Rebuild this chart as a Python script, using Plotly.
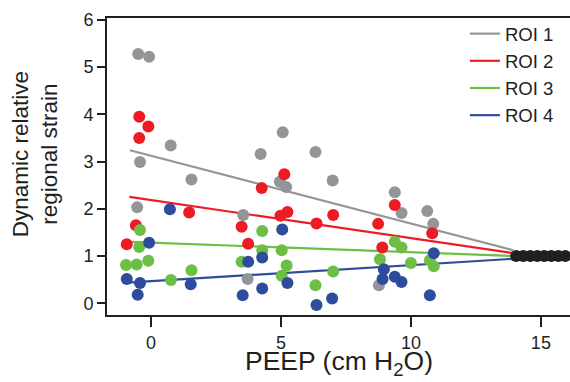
import plotly.graph_objects as go

# ---- data ----
roi1_x = [-0.49, -0.07, 0.76, -0.42, -0.53, 1.56, 3.55, 3.72, 4.22, 5.07, 4.96, 5.20, 6.33, 6.99, 9.38, 9.64, 10.63, 10.86, 8.77]
roi1_y = [5.28, 5.22, 3.34, 2.99, 2.03, 2.62, 1.87, 0.51, 3.16, 3.62, 2.57, 2.46, 3.20, 2.60, 2.35, 1.91, 1.95, 1.68, 0.38]

roi2_x = [-0.45, -0.10, -0.45, -0.58, -0.93, 1.47, 3.49, 3.74, 4.26, 5.13, 4.98, 5.25, 6.37, 7.01, 8.74, 9.38, 8.90, 10.82]
roi2_y = [3.95, 3.74, 3.50, 1.65, 1.25, 1.92, 1.62, 1.26, 2.44, 2.73, 1.85, 1.93, 1.69, 1.87, 1.68, 2.08, 1.18, 1.48]

roi3_x = [-0.42, -0.45, -0.96, -0.55, -0.10, 0.77, 1.56, 3.49, 4.28, 4.28, 5.03, 5.22, 5.03, 6.33, 7.01, 9.38, 9.64, 8.81, 10.00, 10.73, 10.88]
roi3_y = [1.55, 1.19, 0.81, 0.82, 0.90, 0.49, 0.70, 0.88, 1.53, 1.12, 1.12, 0.80, 0.58, 0.38, 0.67, 1.30, 1.18, 0.93, 0.85, 0.91, 0.78]

roi4_x = [0.73, -0.07, -0.93, -0.42, -0.51, 1.53, 3.53, 3.74, 4.28, 4.28, 5.05, 5.25, 6.37, 6.97, 8.96, 8.91, 9.38, 9.64, 10.73, 10.88]
roi4_y = [1.99, 1.28, 0.51, 0.43, 0.18, 0.40, 0.17, 0.88, 0.97, 0.31, 1.56, 0.43, -0.04, 0.10, 0.72, 0.51, 0.56, 0.45, 0.17, 1.06]

ref_x = [14.05, 14.32, 14.59, 14.86, 15.13, 15.40, 15.67, 15.94]
ref_y = [1, 1, 1, 1, 1, 1, 1, 1]

# regression line end points
fit1_x = [-0.81, 13.94]; fit1_y = [3.24, 1.12]
fit2_x = [-0.83, 13.94]; fit2_y = [2.25, 1.06]
fit3_x = [-0.83, 13.94]; fit3_y = [1.30, 1.00]
fit4_x = [-1.07, 13.94]; fit4_y = [0.43, 0.94]

names = ["ROI 1", "ROI 2", "ROI 3", "ROI 4"]
colors = ["#939598", "#ED1C24", "#6DBE45", "#2E4C9C"]

x_title = "PEEP (cm H<sub>2</sub>O)"
y_title = "Dynamic relative<br>regional strain"

xs = [roi1_x, roi2_x, roi3_x, roi4_x]
ys = [roi1_y, roi2_y, roi3_y, roi4_y]
fxs = [fit1_x, fit2_x, fit3_x, fit4_x]
fys = [fit1_y, fit2_y, fit3_y, fit4_y]

FONT = "Liberation Sans, Arial, Helvetica, sans-serif"

fig = go.Figure()
for n, c, fx, fy in zip(names, colors, fxs, fys):
    fig.add_trace(go.Scatter(x=fx, y=fy, mode="lines", name=n,
                             line=dict(color=c, width=2.2), showlegend=True))
for n, c, x, y in zip(names, colors, xs, ys):
    fig.add_trace(go.Scatter(x=x, y=y, mode="markers", name=n, showlegend=False,
                             marker=dict(color=c, size=12, line=dict(width=0))))
fig.add_trace(go.Scatter(x=ref_x, y=ref_y, mode="markers", showlegend=False,
                         marker=dict(color="#231F20", size=12, line=dict(width=0))))

fig.update_layout(
    width=570, height=382,
    margin=dict(l=107, r=0, t=18, b=67, autoexpand=False),
    paper_bgcolor="white", plot_bgcolor="white",
    font=dict(family=FONT, color="#231F20", size=18),
    legend=dict(x=0.773, y=1.01, xanchor="left", yanchor="top",
                font=dict(size=18.6, family=FONT), bgcolor="rgba(0,0,0,0)",
                tracegroupgap=0),
    xaxis=dict(range=[-1.69, 16.12], tickvals=[0, 5, 10, 15],
               ticks="outside", ticklen=10, tickwidth=2, tickcolor="#231F20",
               showline=True, linewidth=2, linecolor="#231F20", mirror=True,
               showgrid=False, zeroline=False, automargin=False,
               tickfont=dict(size=18)),
    yaxis=dict(range=[-0.25, 6.04], tickvals=[0, 1, 2, 3, 4, 5, 6],
               ticks="outside", ticklen=8, tickwidth=2, tickcolor="#231F20",
               showline=True, linewidth=2, linecolor="#231F20",
               showgrid=False, zeroline=False, automargin=False,
               tickfont=dict(size=18)),
    annotations=[
        dict(text=y_title, textangle=-90, showarrow=False,
             xref="paper", yref="paper", x=-0.155, y=0.542,
             xanchor="center", yanchor="middle",
             font=dict(size=22.5, family=FONT, color="#231F20")),
        dict(text=x_title, showarrow=False,
             xref="paper", yref="paper", x=0.5, y=0.0,
             xanchor="center", yanchor="bottom", yshift=-67,
             font=dict(size=26.5, family=FONT, color="#231F20")),
    ],
)

fig.write_html("out.html", config={"displayModeBar": False},
               post_script="document.body.style.margin='0';document.body.style.overflow='hidden';")
